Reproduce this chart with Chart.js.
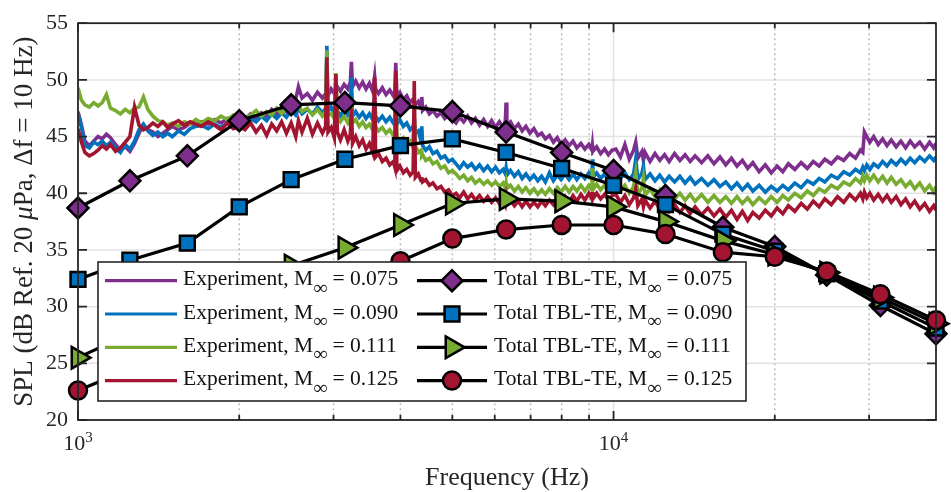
<!DOCTYPE html>
<html>
<head>
<meta charset="utf-8">
<script src="https://cdn.jsdelivr.net/npm/chart.js@4.4.1/dist/chart.umd.min.js"></script>
<style>
  html, body { margin: 0; padding: 0; background: #fff; }
  canvas { display: block; }
</style>
</head>
<body>
<canvas id="spl" width="951" height="492"></canvas>
<script>
const expFreq = [
  1000, 1015, 1030, 1050, 1070, 1090, 1110, 1130, 1150, 1175, 1200, 1225, 1250, 1275, 1300, 1325, 1350, 1380, 1410, 1440, 1470, 1500, 1540, 1580, 1620, 1660, 1700, 1750, 1800, 1850, 1900, 1950, 2000,
  2050, 2100, 2150, 2200, 2250, 2300, 2350, 2400, 2450, 2500, 2550, 2580, 2620, 2680, 2740, 2800, 2860, 2900, 2915, 2930, 2970, 3010, 3030, 3050, 3090, 3140, 3190, 3225, 3240, 3255, 3300, 3350, 3400, 3450, 3500, 3550, 3580, 3595, 3640, 3700, 3760, 3820, 3880, 3905, 3920, 3940, 3990, 4050, 4110, 4170, 4225, 4245, 4265, 4320, 4370, 4385, 4400, 4460, 4530, 4600, 4680, 4760, 4840, 4920, 5000,
  5080, 5160, 5250, 5340, 5430, 5520, 5620, 5720, 5820, 5920, 6020, 6120, 6220, 6280, 6300, 6320, 6420, 6530, 6640, 6750, 6860, 6980, 7100, 7220, 7340, 7460, 7590, 7720, 7850, 7980, 8120, 8260, 8400, 8540, 8690, 8840, 8990, 9110, 9130, 9150, 9300, 9460, 9620, 9780, 9940,
  10100, 10300, 10500, 10700, 10900, 11000, 11100, 11300, 11370, 11450, 11700, 11950, 12200, 12450, 12700, 13000, 13300, 13600, 13900, 14200, 14600, 15000, 15400, 15800, 16200, 16600, 17000, 17400, 17800, 18200, 18700, 19200, 19700, 20200, 20700, 21200, 21800, 22400, 23000, 23600, 24200, 24800, 25500, 26200, 26900, 27600, 28300, 28900, 29200, 29400, 29700, 30100, 30600, 31200, 31800, 32400, 33000, 33700, 34400, 35100, 35800, 36500, 37300, 38100, 38900, 39600, 40000
];

const expM075 = [
  47.2, 46.0, 44.6, 44.2, 44.6, 45.0, 44.8, 45.2, 44.9, 44.3, 43.8, 44.1, 43.7, 44.4, 45.3, 46.0, 45.6, 45.4, 45.0, 45.3, 45.6, 45.9, 45.6, 45.8, 46.2, 46.0, 46.3, 46.1, 46.5, 46.2, 46.6, 46.3, 46.7,
  46.5, 47.0, 46.6, 47.1, 46.8, 47.4, 47.0, 47.6, 47.2, 47.9, 48.3, 49.4, 48.4, 48.8, 48.2, 48.9, 48.4, 48.8, 49.5, 48.6, 49.2, 48.8, 49.2, 49.4, 49.0, 49.6, 49.2, 49.8, 51.6, 49.4, 49.9, 49.3, 49.8, 49.2, 49.7, 49.0, 50.3, 49.2, 48.8, 49.3, 48.7, 49.1, 48.6, 49.0, 51.5, 48.6, 48.9, 48.3, 48.6, 48.0, 48.3, 48.0, 47.8, 48.1, 47.5, 48.5, 47.3, 47.6, 47.0, 47.3, 46.8, 47.1, 46.6, 46.9, 46.5,
  46.2, 46.7, 46.3, 46.8, 46.2, 46.6, 46.0, 46.5, 45.9, 46.4, 45.8, 46.3, 45.8, 46.4, 48.0, 46.0, 46.3, 45.7, 46.1, 45.5, 45.9, 45.3, 45.7, 45.1, 45.3, 44.8, 45.1, 44.5, 44.9, 44.3, 44.7, 44.2, 44.6, 44.0, 44.4, 43.9, 44.3, 43.8, 44.2, 43.7, 44.1, 43.5, 43.9, 43.4, 43.8,
  43.9, 43.2, 44.3, 43.0, 43.8, 44.5, 43.1, 43.7, 42.9, 43.6, 42.8, 43.5, 42.9, 43.4, 42.8, 43.5, 42.9, 43.4, 42.8, 43.3, 42.7, 43.3, 42.6, 43.2, 42.5, 43.1, 42.4, 42.9, 42.2, 42.7, 41.9, 42.5, 41.8, 42.4, 41.9, 42.6, 42.1, 42.7, 42.2, 42.8, 42.4, 43.0, 42.6, 43.2, 42.9, 43.5, 43.1, 43.8, 43.6, 45.4, 45.0, 44.5, 45.0, 44.3, 44.8, 44.2, 44.7, 44.1, 44.6, 44.0, 44.6, 44.1, 44.5, 43.9, 44.5, 44.0, 44.4
];

const expM090 = [
  47.0, 45.8, 44.2, 44.0, 44.5, 44.3, 44.6, 44.2, 44.5, 44.0, 43.6, 44.3, 43.9, 44.6, 45.6, 46.1, 45.5, 45.1, 45.4, 45.0, 45.3, 45.0, 45.5, 45.2, 45.7, 45.9, 46.0, 45.7, 46.1, 45.8, 46.2, 45.9, 46.3,
  46.1, 46.6, 46.3, 46.8, 46.4, 47.0, 46.6, 47.1, 46.7, 47.3, 46.9, 47.5, 47.0, 47.4, 47.0, 47.6, 47.1, 47.5, 53.0, 47.2, 47.6, 47.0, 49.0, 47.3, 46.8, 47.4, 46.9, 47.3, 50.2, 46.8, 47.2, 46.7, 47.1, 46.6, 47.0, 46.5, 48.5, 46.8, 46.4, 46.8, 46.3, 46.7, 46.2, 46.6, 49.9, 46.1, 46.5, 45.9, 46.2, 45.6, 45.9, 46.5, 45.3, 45.5, 44.6, 45.9, 44.2, 43.8, 44.1, 43.5, 43.7, 43.1, 43.3, 42.8, 43.0,
  42.6, 42.2, 42.7, 42.3, 42.6, 42.1, 42.5, 42.0, 42.4, 41.9, 42.3, 41.8, 42.1, 41.7, 42.2, 41.6, 42.0, 41.5, 41.9, 41.3, 41.7, 41.2, 41.6, 41.1, 41.5, 41.0, 41.8, 41.1, 41.6, 41.2, 41.7, 41.2, 41.7, 41.2, 41.7, 41.3, 41.8, 41.3, 43.0, 41.4, 41.8, 41.3, 41.7, 41.2, 41.6,
  41.9, 41.3, 41.8, 41.2, 41.7, 43.0, 41.2, 41.8, 42.4, 41.2, 41.7, 41.1, 41.6, 41.0, 41.5, 41.0, 41.5, 40.9, 41.4, 40.8, 41.3, 40.7, 41.2, 40.6, 41.0, 40.4, 40.9, 40.3, 40.8, 40.2, 40.7, 40.1, 40.6, 40.2, 40.7, 40.3, 40.9, 40.5, 41.1, 40.8, 41.3, 41.0, 41.6, 41.3, 41.9, 41.6, 42.1, 41.8, 42.3, 42.0, 42.5, 42.1, 42.6, 42.3, 42.8, 42.4, 42.9, 42.5, 43.0, 42.6, 43.1, 42.7, 43.2, 42.8, 43.3, 42.9, 43.2
];

const expM111 = [
  49.3, 48.2, 47.8, 47.6, 48.0, 47.7, 48.0, 48.7, 47.5, 47.3, 47.0, 47.4, 47.1, 47.5, 47.6, 48.5, 47.4, 46.8, 46.4, 46.3, 46.0, 46.2, 45.9, 46.3, 46.1, 46.5, 46.2, 46.6, 46.4, 46.8, 46.5, 46.9, 46.7,
  46.5, 46.9, 47.3, 46.8, 47.2, 46.9, 47.5, 47.0, 47.6, 47.1, 47.4, 47.8, 47.2, 47.5, 46.9, 47.4, 46.8, 47.2, 52.6, 46.9, 47.0, 46.6, 50.6, 46.7, 46.3, 46.8, 46.2, 46.6, 48.0, 46.2, 46.5, 45.9, 46.3, 45.8, 46.1, 45.6, 47.5, 45.9, 45.5, 45.8, 45.3, 45.6, 45.1, 45.4, 48.5, 45.0, 44.7, 44.9, 44.3, 44.6, 44.0, 46.8, 44.2, 43.6, 43.8, 43.3, 43.4, 42.9, 43.1, 42.6, 42.8, 42.2, 42.4, 41.8, 42.0,
  41.7, 41.3, 41.6, 41.1, 41.4, 40.9, 41.2, 40.8, 41.1, 40.7, 41.0, 40.6, 40.9, 40.5, 40.9, 40.4, 40.7, 40.2, 40.6, 40.1, 40.5, 40.0, 40.4, 39.9, 40.3, 39.9, 40.4, 40.0, 40.5, 40.1, 40.6, 40.1, 40.6, 40.2, 40.7, 40.2, 40.7, 40.3, 42.2, 40.3, 40.8, 40.3, 40.7, 40.2, 40.6,
  40.8, 40.2, 40.7, 40.0, 40.6, 41.8, 39.9, 40.5, 41.3, 39.8, 40.4, 39.7, 40.3, 39.6, 40.1, 39.5, 40.0, 39.4, 39.9, 39.3, 39.9, 39.2, 39.8, 39.2, 39.7, 39.1, 39.7, 39.1, 39.6, 39.0, 39.6, 39.1, 39.7, 39.2, 39.8, 39.4, 40.0, 39.6, 40.2, 39.8, 40.4, 40.1, 40.7, 40.4, 41.0, 40.7, 41.3, 40.9, 41.5, 41.1, 41.6, 41.1, 41.6, 41.0, 41.5, 40.9, 41.4, 40.8, 41.2, 40.6, 41.0, 40.4, 40.9, 40.2, 40.7, 40.1, 40.6
];

const expM125 = [
  45.7, 44.5, 43.6, 43.3, 43.5, 43.8, 44.2, 43.9, 44.3, 43.7, 44.0, 44.5, 45.0, 47.6, 46.0, 45.6, 45.8, 46.2, 45.9, 46.3, 45.8, 46.1, 46.4, 46.0, 46.3, 46.1, 45.9, 46.3, 46.0, 45.6, 46.2, 45.7, 45.9,
  45.6, 46.2, 45.4, 46.0, 45.1, 46.1, 45.5, 46.3, 45.3, 46.2, 45.0, 46.4, 45.4, 46.6, 45.2, 46.2, 45.3, 45.9, 52.0, 45.4, 45.8, 44.9, 50.5, 45.4, 44.7, 45.6, 44.6, 45.2, 47.5, 44.4, 45.0, 44.2, 44.7, 43.9, 44.4, 43.6, 50.2, 43.2, 43.5, 42.8, 43.1, 42.5, 42.8, 42.3, 50.8, 42.0, 42.4, 41.8, 42.1, 41.6, 41.9, 49.9, 41.4, 41.7, 41.1, 41.4, 41.0, 41.2, 40.7, 40.9, 40.4, 40.6, 40.1, 40.3, 39.8,
  40.0, 39.6, 40.1, 39.5, 39.9, 39.4, 39.8, 39.3, 39.7, 39.2, 39.6, 39.1, 39.5, 39.0, 39.5, 39.0, 39.4, 38.9, 39.3, 38.8, 39.3, 38.8, 39.2, 38.8, 39.3, 38.9, 39.4, 39.0, 39.6, 39.1, 39.7, 39.2, 39.8, 39.3, 39.9, 39.4, 40.0, 39.5, 40.1, 39.5, 40.0, 39.5, 39.9, 39.4, 39.8,
  39.9, 39.2, 39.8, 39.0, 39.6, 40.4, 38.9, 39.5, 38.8, 39.4, 38.7, 39.3, 38.6, 39.1, 38.4, 39.0, 38.3, 38.9, 38.2, 38.8, 38.1, 38.7, 38.0, 38.6, 37.9, 38.5, 37.7, 38.4, 37.6, 38.3, 37.8, 38.5, 38.0, 38.7, 38.2, 38.9, 38.4, 39.1, 38.6, 39.3, 38.8, 39.5, 39.0, 39.7, 39.2, 39.9, 39.4, 40.0, 39.5, 40.1, 39.6, 40.0, 39.4, 39.9, 39.3, 39.8, 39.2, 39.7, 39.0, 39.5, 38.8, 39.3, 38.6, 39.1, 38.4, 38.9, 38.5
];

// TBL-TE model, one-third octave bands
const bandFreq = [1000, 1250, 1600, 2000, 2500, 3150, 4000, 5000, 6300, 8000, 10000, 12500, 16000, 20000, 25000, 31500, 40000];
const tblM075 = [38.7, 41.1, 43.3, 46.4, 47.8, 48.0, 47.7, 47.2, 45.4, 43.6, 42.0, 39.8, 37.0, 35.3, 32.8, 30.1, 27.6];
const tblM090 = [32.4, 34.1, 35.6, 38.8, 41.2, 43.0, 44.2, 44.8, 43.6, 42.2, 40.7, 39.0, 36.4, 34.9, 32.9, 30.5, 28.1];
const tblM111 = [25.5, 27.6, 29.6, 31.6, 33.6, 35.2, 37.2, 39.1, 39.5, 39.3, 38.8, 37.5, 35.8, 34.6, 33.0, 30.8, 28.5];
const tblM125 = [22.6, 24.5, 26.5, 28.5, 30.5, 32.4, 34.0, 36.0, 36.8, 37.2, 37.2, 36.4, 34.8, 34.4, 33.1, 31.1, 28.8];

const expLabels = ['Experiment, M∞ = 0.075', 'Experiment, M∞ = 0.090', 'Experiment, M∞ = 0.111', 'Experiment, M∞ = 0.125'];
const tblLabels = ['Total TBL-TE, M∞ = 0.075', 'Total TBL-TE, M∞ = 0.090', 'Total TBL-TE, M∞ = 0.111', 'Total TBL-TE, M∞ = 0.125'];

// axis decoration
const yTicks = [20, 25, 30, 35, 40, 45, 50, 55];
const xDecades = [1000, 10000];
const xDecadeExp = ['3', '4'];
const xMinor = [2000, 3000, 4000, 5000, 6000, 7000, 8000, 9000, 20000, 30000];

const COLORS = ['#7E2F8E', '#0072BD', '#77AC30', '#A2142F'];
const INK = '#262626';
const SERIF = '"Liberation Serif", "Times New Roman", serif';

const toXY = (xs, ys) => xs.map((x, i) => ({ x: x, y: ys[i] }));

const expSeries = [expM075, expM090, expM111, expM125];
const tblSeries = [tblM075, tblM090, tblM111, tblM125];
const markerStyles = [
  { style: 'rectRot', radius: 10.5, rotation: 0 },
  { style: 'rect', radius: 10.5, rotation: 0 },
  { style: 'triangle', radius: 12.5, rotation: 90 },
  { style: 'circle', radius: 9, rotation: 0 }
];

const datasets = [];
expSeries.forEach((vals, i) => {
  datasets.push({
    kind: 'exp',
    label: expLabels[i],
    data: toXY(expFreq, vals),
    borderColor: COLORS[i],
    borderWidth: 3.6,
    pointRadius: 0,
    tension: 0,
    order: 7 - i
  });
});
tblSeries.forEach((vals, i) => {
  const m = markerStyles[i];
  datasets.push({
    kind: 'tbl',
    label: tblLabels[i],
    data: toXY(bandFreq, vals),
    borderColor: '#000',
    borderWidth: 3.2,
    pointStyle: m.style,
    pointRadius: m.radius,
    pointRotation: m.rotation,
    pointBackgroundColor: COLORS[i],
    pointBorderColor: '#000',
    pointBorderWidth: 2.5,
    tension: 0,
    clip: false,
    order: 3 - i
  });
});

// marker for the legend, same geometry as the library's points
function legendMarker(ctx, m, color, x, y) {
  ctx.save();
  ctx.fillStyle = color;
  ctx.strokeStyle = '#000';
  ctx.lineWidth = 2.5;
  ctx.setLineDash([]);
  if (Chart.helpers && Chart.helpers.drawPoint) {
    Chart.helpers.drawPoint(ctx, { pointStyle: m.style, radius: m.radius, rotation: m.rotation, borderWidth: 2.5 }, x, y);
  } else {
    ctx.beginPath();
    ctx.arc(x, y, m.radius, 0, Math.PI * 2);
    ctx.fill();
    ctx.stroke();
  }
  ctx.restore();
}

// text with a subscript infinity
function subText(ctx, text, x, y) {
  const parts = text.split('∞');
  ctx.font = '21.5px ' + SERIF;
  ctx.fillText(parts[0], x, y);
  let cx = x + ctx.measureText(parts[0]).width;
  ctx.font = '19.5px ' + SERIF;
  ctx.fillText('∞', cx, y + 8.5);
  cx += ctx.measureText('∞').width;
  ctx.font = '21.5px ' + SERIF;
  ctx.fillText(parts[1], cx, y);
}

const axesPlugin = {
  id: 'matlabAxes',
  beforeDatasetsDraw(chart) {
    const { ctx, chartArea: a, scales } = chart;
    ctx.save();
    ctx.lineWidth = 1.5;
    ctx.strokeStyle = '#e2e2e2';
    yTicks.forEach(v => {
      const py = scales.y.getPixelForValue(v);
      ctx.beginPath(); ctx.moveTo(a.left, py); ctx.lineTo(a.right, py); ctx.stroke();
    });
    xDecades.forEach(v => {
      const px = scales.x.getPixelForValue(v);
      ctx.beginPath(); ctx.moveTo(px, a.top); ctx.lineTo(px, a.bottom); ctx.stroke();
    });
    ctx.strokeStyle = '#bcbcbc';
    ctx.setLineDash([2, 3]);
    xMinor.forEach(v => {
      const px = scales.x.getPixelForValue(v);
      ctx.beginPath(); ctx.moveTo(px, a.top); ctx.lineTo(px, a.bottom); ctx.stroke();
    });
    ctx.restore();
  },
  afterDatasetsDraw(chart) {
    const { ctx, chartArea: a, scales } = chart;
    ctx.save();
    ctx.strokeStyle = INK;
    ctx.lineWidth = 1.8;
    ctx.strokeRect(a.left, a.top, a.right - a.left, a.bottom - a.top);
    ctx.beginPath();
    yTicks.forEach(v => {
      const py = scales.y.getPixelForValue(v);
      ctx.moveTo(a.left, py); ctx.lineTo(a.left + 9, py);
      ctx.moveTo(a.right, py); ctx.lineTo(a.right - 9, py);
    });
    xDecades.forEach(v => {
      const px = scales.x.getPixelForValue(v);
      ctx.moveTo(px, a.bottom); ctx.lineTo(px, a.bottom - 9);
      ctx.moveTo(px, a.top); ctx.lineTo(px, a.top + 9);
    });
    xMinor.forEach(v => {
      const px = scales.x.getPixelForValue(v);
      ctx.moveTo(px, a.bottom); ctx.lineTo(px, a.bottom - 5);
      ctx.moveTo(px, a.top); ctx.lineTo(px, a.top + 5);
    });
    ctx.stroke();
    ctx.restore();
  },
  afterDraw(chart) {
    const { ctx, chartArea: a, scales } = chart;
    ctx.save();
    ctx.fillStyle = INK;
    ctx.textBaseline = 'alphabetic';

    // x tick labels 10^n
    xDecades.forEach((v, i) => {
      const px = scales.x.getPixelForValue(v);
      ctx.font = '22px ' + SERIF;
      const wb = ctx.measureText('10').width;
      ctx.font = '15px ' + SERIF;
      const we = ctx.measureText(xDecadeExp[i]).width;
      const x0 = px - (wb + we) / 2;
      ctx.font = '22px ' + SERIF;
      ctx.textAlign = 'left';
      ctx.fillText('10', x0, a.bottom + 30);
      ctx.font = '15px ' + SERIF;
      ctx.fillText(xDecadeExp[i], x0 + wb, a.bottom + 22);
    });

    // x title
    ctx.font = '26px ' + SERIF;
    ctx.textAlign = 'center';
    ctx.fillText('Frequency (Hz)', (a.left + a.right) / 2, a.bottom + 65);

    // y title, with italic mu
    const segs = [
      { t: 'SPL (dB Ref. 20 ', f: '27px ' + SERIF },
      { t: 'μ', f: 'italic 27px ' + SERIF },
      { t: 'Pa, Δf = 10 Hz)', f: '27px ' + SERIF }
    ];
    let total = 0;
    segs.forEach(s => { ctx.font = s.f; s.w = ctx.measureText(s.t).width; total += s.w; });
    ctx.translate(32, (a.top + a.bottom) / 2);
    ctx.rotate(-Math.PI / 2);
    ctx.textAlign = 'left';
    let sx = -total / 2;
    segs.forEach(s => { ctx.font = s.f; ctx.fillText(s.t, sx, 0); sx += s.w; });
    ctx.restore();

    // legend
    ctx.save();
    const box = { left: 98, top: 262, right: 746, bottom: 401 };
    ctx.fillStyle = '#fff';
    ctx.fillRect(box.left, box.top, box.right - box.left, box.bottom - box.top);
    ctx.strokeStyle = INK;
    ctx.lineWidth = 1.6;
    ctx.strokeRect(box.left, box.top, box.right - box.left, box.bottom - box.top);
    const expSets = chart.data.datasets.filter(d => d.kind === 'exp');
    const tblSets = chart.data.datasets.filter(d => d.kind === 'tbl');
    for (let i = 0; i < 4; i++) {
      const ly = 280.7 + i * 33.3;
      ctx.lineWidth = 3.2;
      ctx.strokeStyle = expSets[i].borderColor;
      ctx.beginPath(); ctx.moveTo(105, ly); ctx.lineTo(177, ly); ctx.stroke();
      ctx.strokeStyle = '#000';
      ctx.beginPath(); ctx.moveTo(417, ly); ctx.lineTo(487, ly); ctx.stroke();
      legendMarker(ctx, markerStyles[i], tblSets[i].pointBackgroundColor, 452, ly);
      ctx.fillStyle = '#111';
      ctx.textAlign = 'left';
      subText(ctx, expSets[i].label, 183, ly + 4.5);
      subText(ctx, tblSets[i].label, 494, ly + 4.5);
    }
    ctx.restore();
  }
};

new Chart(document.getElementById('spl'), {
  type: 'line',
  data: { datasets: datasets },
  options: {
    responsive: false,
    animation: false,
    devicePixelRatio: 1,
    layout: { padding: { top: 14, right: 7, left: 0, bottom: 0 } },
    plugins: { legend: { display: false }, tooltip: { enabled: false } },
    scales: {
      x: {
        type: 'logarithmic',
        min: 1000,
        max: 40000,
        grid: { display: false, drawTicks: false },
        border: { display: false },
        ticks: { display: false },
        afterFit(scale) { scale.height = 72; }
      },
      y: {
        type: 'linear',
        min: 20,
        max: 55,
        grid: { display: false, drawTicks: false },
        border: { display: false },
        ticks: {
          stepSize: 5,
          padding: 10,
          color: INK,
          font: { family: SERIF, size: 22 }
        },
        afterFit(scale) { scale.width = 78; }
      }
    }
  },
  plugins: [axesPlugin]
});
</script>
</body>
</html>
